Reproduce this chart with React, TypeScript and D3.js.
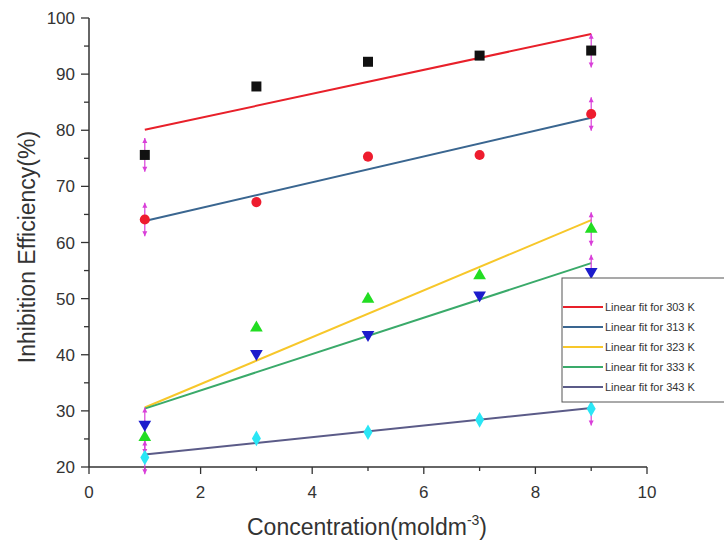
import React, { useEffect, useRef } from "react";
import * as d3 from "d3";

// concentration (x) values
const conc = [1, 3, 5, 7, 9];

// inhibition efficiency (%) per temperature
const ie303 = [75.6, 87.8, 92.2, 93.3, 94.2];
const ie313 = [64.1, 67.2, 75.3, 75.6, 82.9];
const ie323 = [25.3, 44.8, 49.9, 54.1, 62.4];
const ie333 = [27.6, 40.2, 43.6, 50.6, 54.8];
const ie343 = [21.7, 25.1, 26.2, 28.4, 30.4];

// error bars (+/-), only drawn at the end points
const errBars = [3, 0, 0, 0, 3];

const legendLabels = [
  "Linear fit for 303 K",
  "Linear fit for 313 K",
  "Linear fit for 323 K",
  "Linear fit for 333 K",
  "Linear fit for 343 K",
];

const xTicks = [0, 2, 4, 6, 8, 10];
const yTicks = [20, 30, 40, 50, 60, 70, 80, 90, 100];

const series = [
  { values: ie303, marker: d3.symbolSquare, size: 100, rot: 0, markColor: "#111111", lineColor: "#e8202a" },
  { values: ie313, marker: d3.symbolCircle, size: 80, rot: 0, markColor: "#ee1c2e", lineColor: "#3a6690" },
  { values: ie323, marker: d3.symbolTriangle, size: 70, rot: 0, markColor: "#22dd22", lineColor: "#f7c72a" },
  { values: ie333, marker: d3.symbolTriangle, size: 70, rot: 180, markColor: "#1c1ccc", lineColor: "#3aaa6a" },
  { values: ie343, marker: d3.symbolDiamond, size: 70, rot: 0, markColor: "#2ae6f5", lineColor: "#5b5b88" },
];

// least squares fit, end points only
function fit(xs: number[], ys: number[]) {
  const mx = d3.mean(xs) as number;
  const my = d3.mean(ys) as number;
  const num = d3.sum(xs, (x, i) => (x - mx) * (ys[i] - my));
  const den = d3.sum(xs, (x) => (x - mx) * (x - mx));
  const b = num / den;
  const a = my - b * mx;
  const x0 = d3.min(xs) as number;
  const x1 = d3.max(xs) as number;
  return [[x0, a + b * x0], [x1, a + b * x1]];
}

const App = () => {
  const svgRef = useRef(null);

  useEffect(() => {
    const width = 724;
    const height = 543;
    const svg = d3.select(svgRef.current).attr("width", width).attr("height", height);
    svg.selectAll("*").remove();

    const x = d3.scaleLinear().domain([0, 10]).range([89, 647]);
    const y = d3.scaleLinear().domain([20, 100]).range([467, 18]);
    const font = "Arial, 'Liberation Sans', sans-serif";
    const axisColor = "#333";

    // axes
    const ax = svg.append("g");
    ax.append("line").attr("x1", x(0)).attr("x2", x(0)).attr("y1", y(100)).attr("y2", y(20))
      .attr("stroke", axisColor).attr("stroke-width", 1.5);
    ax.append("line").attr("x1", x(0)).attr("x2", x(10)).attr("y1", y(20)).attr("y2", y(20))
      .attr("stroke", axisColor).attr("stroke-width", 1.5);

    // y ticks (major + minor)
    d3.range(20, 101, 5).forEach((v) => {
      const major = v % 10 === 0;
      ax.append("line").attr("x1", x(0) - (major ? 8 : 5)).attr("x2", x(0))
        .attr("y1", y(v)).attr("y2", y(v)).attr("stroke", axisColor).attr("stroke-width", 1.3);
    });
    ax.selectAll(".ylab").data(yTicks).enter().append("text")
      .attr("x", 75).attr("y", (d) => y(d) + 6)
      .attr("text-anchor", "end").attr("font-family", font).attr("font-size", 17)
      .attr("fill", "#333").text((d) => d);

    // x ticks
    d3.range(0, 11, 1).forEach((v) => {
      const major = v % 2 === 0;
      ax.append("line").attr("x1", x(v)).attr("x2", x(v))
        .attr("y1", y(20)).attr("y2", y(20) + (major ? 7 : 4)).attr("stroke", axisColor).attr("stroke-width", 1.3);
    });
    ax.selectAll(".xlab").data(xTicks).enter().append("text")
      .attr("x", (d) => x(d)).attr("y", 498)
      .attr("text-anchor", "middle").attr("font-family", font).attr("font-size", 17)
      .attr("fill", "#333").text((d) => d);

    // axis titles
    const xt = ax.append("text").attr("x", 367).attr("y", 535).attr("text-anchor", "middle")
      .attr("font-family", font).attr("font-size", 23).attr("fill", "#333");
    xt.append("tspan").text("Concentration(moldm");
    xt.append("tspan").attr("dy", -10).attr("font-size", 14).text("-3");
    xt.append("tspan").attr("dy", 10).text(")");

    ax.append("text").attr("transform", "translate(35,247) rotate(-90)")
      .attr("text-anchor", "middle").attr("font-family", font).attr("font-size", 23)
      .attr("fill", "#333").text("Inhibition Efficiency(%)");

    // fit lines
    const line = d3.line().x((d: any) => x(d[0])).y((d: any) => y(d[1]));
    series.forEach((s) => {
      svg.append("path").attr("d", line(fit(conc, s.values) as any))
        .attr("fill", "none").attr("stroke", s.lineColor).attr("stroke-width", 2);
    });

    // error bars
    const eb = svg.append("g").attr("stroke", "#d93fd9").attr("fill", "#d93fd9");
    series.forEach((s) => {
      s.values.forEach((v, i) => {
        const e = errBars[i];
        if (!e) return;
        const cx = x(conc[i]);
        const top = y(v + e);
        const bot = y(v - e);
        eb.append("line").attr("x1", cx).attr("x2", cx).attr("y1", top).attr("y2", bot).attr("stroke-width", 1.2);
        eb.append("path").attr("d", `M${cx - 2.5},${top + 5}L${cx},${top}L${cx + 2.5},${top + 5}Z`).attr("stroke", "none");
        eb.append("path").attr("d", `M${cx - 2.5},${bot - 5}L${cx},${bot}L${cx + 2.5},${bot - 5}Z`).attr("stroke", "none");
      });
    });

    // markers
    series.forEach((s) => {
      const sym = d3.symbol().type(s.marker).size(s.size);
      svg.append("g").selectAll("path").data(s.values).enter().append("path")
        .attr("d", sym() as string)
        .attr("transform", (d, i) => `translate(${x(conc[i])},${y(d)}) rotate(${s.rot})`)
        .attr("fill", s.markColor);
    });

    // legend
    const lg = svg.append("g");
    lg.append("rect").attr("x", 562).attr("y", 278).attr("width", 170).attr("height", 124)
      .attr("fill", "#fff").attr("stroke", "#555").attr("stroke-width", 1);
    legendLabels.forEach((lab, i) => {
      const ly = 307 + i * 20;
      lg.append("line").attr("x1", 563).attr("x2", 603).attr("y1", ly).attr("y2", ly)
        .attr("stroke", series[i].lineColor).attr("stroke-width", 2);
      lg.append("text").attr("x", 605).attr("y", ly + 4).attr("font-family", font)
        .attr("font-size", 11).attr("fill", "#333").text(lab);
    });
  }, []);

  return (
    <div style={{ position: "absolute", left: 0, top: 0, background: "#fff" }}>
      <svg ref={svgRef}></svg>
    </div>
  );
};

export default App;
